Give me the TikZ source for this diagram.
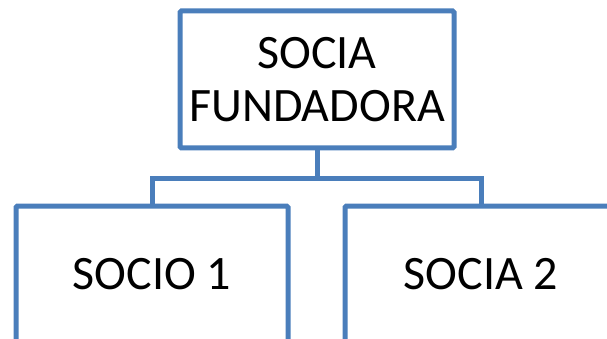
\documentclass[tikz,border=0pt]{standalone}
\usepackage{fontspec}
\setmainfont{Carlito}
\usetikzlibrary{calc}
\definecolor{boxblue}{HTML}{4A7EBB}
\begin{document}
\begin{tikzpicture}[x=1pt,y=-1pt,
  orgbox/.style={draw=boxblue, line width=5pt, rounded corners=1.5pt, fill=white,
    minimum width=272pt, minimum height=137pt, inner sep=0pt, align=center,
    font=\fontsize{48}{53}\selectfont},
  link/.style={draw=boxblue, line width=5pt}]
  \useasboundingbox (0,0) rectangle (607,339);
  \clip (0,0) rectangle (607,339);
  \node[orgbox, minimum width=274pt] (top) at (317,79.5) {SOCIA\\FUNDADORA};
  \node[orgbox] (s1) at (152,274.5) {SOCIO 1};
  \node[orgbox] (s2) at (481,274.5) {SOCIA 2};
  % junction where the branch line leaves the top box
  \coordinate (hub) at ($(top.south)+(0,28)$);
  \draw[link] (top.south) -- (hub) -| (s1.north);
  \draw[link] (hub) -| (s2.north);
\end{tikzpicture}
\end{document}
